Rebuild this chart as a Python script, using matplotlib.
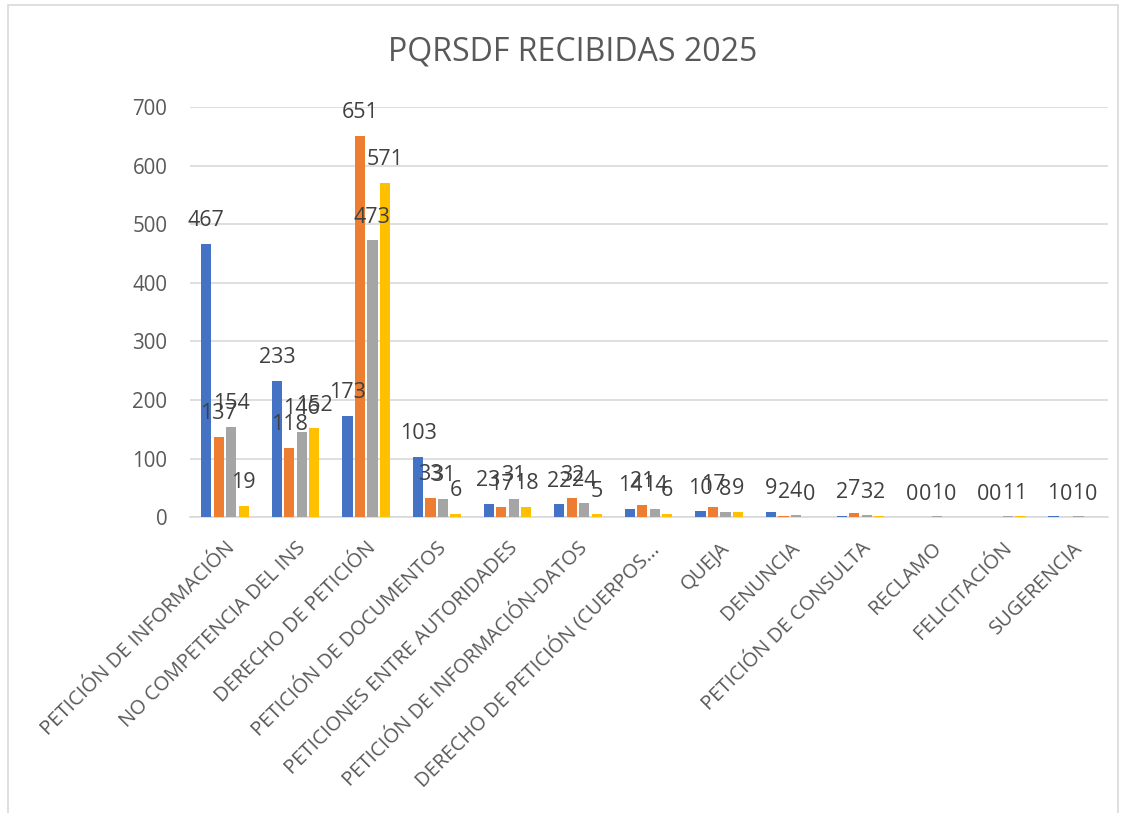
import numpy as np
import matplotlib
matplotlib.use("Agg")
import matplotlib.pyplot as plt
from matplotlib.patches import Rectangle

categories = ["PETICIÓN DE INFORMACIÓN", "NO COMPETENCIA DEL INS", "DERECHO DE PETICIÓN",
              "PETICIÓN DE DOCUMENTOS", "PETICIONES ENTRE AUTORIDADES",
              "PETICIÓN DE INFORMACIÓN-DATOS", "DERECHO DE PETICIÓN (CUERPOS...",
              "QUEJA", "DENUNCIA", "PETICIÓN DE CONSULTA", "RECLAMO", "FELICITACIÓN",
              "SUGERENCIA"]
serie1 = [467, 233, 173, 103, 23, 22, 14, 10, 9, 2, 0, 0, 1]
serie2 = [137, 118, 651, 33, 17, 32, 21, 17, 2, 7, 0, 0, 0]
serie3 = [154, 146, 473, 31, 31, 24, 14, 8, 4, 3, 1, 1, 1]
serie4 = [19, 152, 571, 6, 18, 5, 6, 9, 0, 2, 0, 1, 0]

colors = ["#4472C4", "#ED7D31", "#A5A5A5", "#FFC000"]
series = [serie1, serie2, serie3, serie4]

plt.rcParams['font.family'] = ['Open Sans', 'DejaVu Sans']

fig = plt.figure(figsize=(11.29, 8.13), dpi=100)
ax = fig.add_axes([0.168, 0.364, 0.813, 0.504])

# chart border
fig.patches.append(Rectangle((8 / 1129, -0.01), 1110 / 1129, 1 - 5 / 813 + 0.01,
                             transform=fig.transFigure, fill=False,
                             edgecolor="#D9D9D9", linewidth=1.2))

x = np.arange(len(categories))
pitch = 0.177
width = 0.145
for i, (vals, c) in enumerate(zip(series, colors)):
    bars = ax.bar(x + (i - 1.5) * pitch, vals, width, color=c, zorder=3)
    ax.bar_label(bars, labels=[str(v) for v in vals], padding=9,
                 fontsize=15.5, color="#404040", zorder=6)

ax.set_xlim(-0.5, len(categories) - 0.5)
ax.set_ylim(0, 700)
ax.set_yticks(range(0, 701, 100))
ax.grid(axis="y", color="#D9D9D9", linewidth=1.2, zorder=0)
ax.tick_params(axis="y", length=0, labelsize=14.8, labelcolor="#595959", pad=16)
ax.tick_params(axis="x", length=0, labelsize=14.5, labelcolor="#595959", pad=15)
ax.set_xticks(x)
ax.set_xticklabels(categories, rotation=45, ha="right", va="top", rotation_mode="anchor")
for s in ["top", "right", "left"]:
    ax.spines[s].set_visible(False)
ax.spines["bottom"].set_color("#D9D9D9")
ax.spines["bottom"].set_linewidth(1.2)

fig.text(0.5075, 0.936, "PQRSDF RECIBIDAS 2025", ha="center", va="center",
         fontsize=23, color="#595959")

fig.savefig("out.png", dpi=100)
